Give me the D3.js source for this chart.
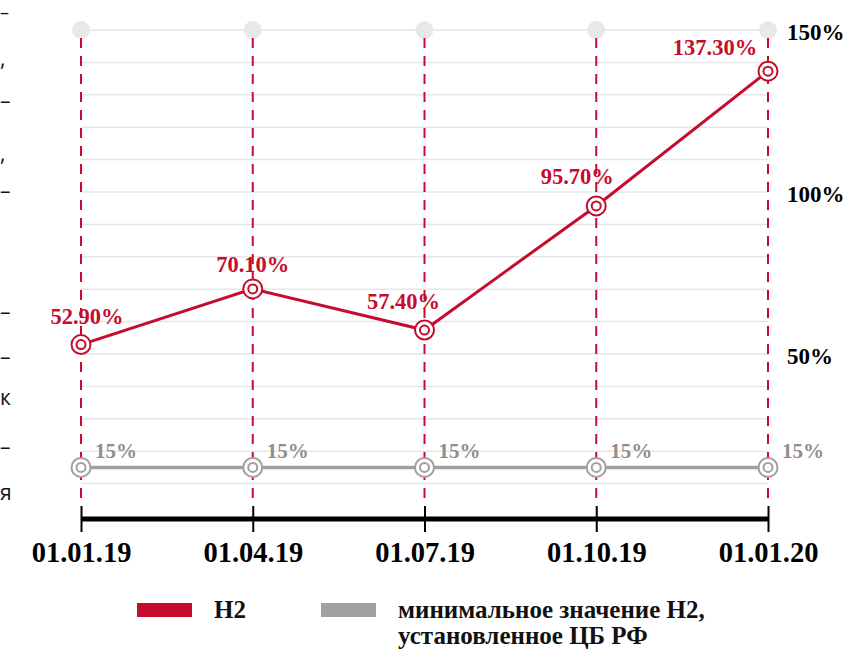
<!DOCTYPE html>
<html><head><meta charset="utf-8">
<script src="https://cdn.jsdelivr.net/npm/d3@7/dist/d3.min.js"></script>
<style>
html,body{margin:0;padding:0;background:#fff;}
svg{display:block;}
text{font-family:"Liberation Serif","DejaVu Serif",serif;font-weight:bold;}
</style></head>
<body>
<svg id="chart" width="843" height="649"></svg>
<script>
// ---- data ----
const categories = ["01.01.19", "01.04.19", "01.07.19", "01.10.19", "01.01.20"];
const n2Values = [52.9, 70.1, 57.4, 95.7, 137.3];
const minValues = [15, 15, 15, 15, 15];
const n2Labels = ["52.90%", "70.10%", "57.40%", "95.70%", "137.30%"];
const minLabels = ["15%", "15%", "15%", "15%", "15%"];
const rightTicks = [50, 100, 150];
const legendItems = ["Н2", "минимальное значение Н2,|установленное ЦБ РФ"];
const leftFragments = ["–", ",", "–", ",", "–", "–", "–", "к", "–", "я"];

// ---- style / layout config ----
const RED = "#c60c2e", GRAY = "#a0a0a0", GRID = "#e6e6e6";
const n2LabelDx = [6, 0, -21, -19, -53];
const n2LabelDy = [-21, -17, -21, -22, -16];
const fragY = [19, 66, 108, 161, 198, 319, 364, 405, 454, 500];

const svg = d3.select("#chart");
svg.append("rect").attr("width", 843).attr("height", 649).attr("fill", "#fff");

const x = d3.scalePoint().domain(categories).range([81, 768]).padding(0);
const y = d3.scaleLinear().domain([0, 150]).range([516, 30]);

// left edge text fragments
svg.append("g").selectAll("text").data(leftFragments).join("text")
  .attr("x", 0).attr("y", (d, i) => fragY[i])
  .attr("text-anchor", "start")
  .style("font-family", "'Open Sans', 'DejaVu Sans', sans-serif")
  .style("font-weight", "normal")
  .attr("font-size", (d, i) => i === 0 ? 18 : 21).attr("fill", "#111").text(d => d);

// gridlines
const gridVals = d3.range(10, 151, 10);
svg.append("g").selectAll("line").data(gridVals).join("line")
  .attr("x1", x(categories[0])).attr("x2", x(categories[categories.length - 1]))
  .attr("y1", d => y(d)).attr("y2", d => y(d))
  .attr("stroke", GRID).attr("stroke-width", 1.5);

// top light circles
svg.append("g").selectAll("circle").data(categories).join("circle")
  .attr("cx", d => x(d)).attr("cy", y(150)).attr("r", 9).attr("fill", "#e8e8e8");

// vertical dashed lines
svg.append("g").selectAll("line").data(categories).join("line")
  .attr("x1", d => x(d)).attr("x2", d => x(d))
  .attr("y1", y(150) + 8).attr("y2", 500)
  .attr("stroke", RED).attr("stroke-width", 2).attr("stroke-dasharray", "10,8");

// x axis
const axisY = 519;
const xAxis = d3.axisBottom(x).tickSize(0).tickPadding(0);
const ax = svg.append("g").attr("transform", `translate(0,${axisY})`).call(xAxis);
ax.select(".domain").remove();
ax.insert("line", ":first-child")
  .attr("x1", x(categories[0])).attr("x2", x(categories[categories.length - 1]))
  .attr("y1", 0).attr("y2", 0).attr("stroke", "#000").attr("stroke-width", 5);
ax.selectAll(".tick line").attr("y1", -13).attr("y2", 13).attr("stroke", "#000").attr("stroke-width", 2);
ax.selectAll(".tick text").attr("y", 43).attr("dy", 0)
  .attr("font-size", 28.5).attr("fill", "#000")
  .style("font-family", "'Liberation Serif', serif").style("font-weight", "bold");

// right axis labels
const yAxis = d3.axisRight(y).tickValues(rightTicks).tickFormat(d => d + "%").tickSize(0).tickPadding(0);
const ay = svg.append("g").attr("transform", "translate(787,0)").call(yAxis);
ay.select(".domain").remove();
ay.selectAll(".tick text").attr("x", 0).attr("dy", 9)
  .attr("font-size", 23).attr("fill", "#000")
  .style("font-family", "'Liberation Serif', serif").style("font-weight", "bold");

// lines
const line = d3.line().x((d, i) => x(categories[i])).y(d => y(d));
svg.append("path").datum(minValues).attr("d", line)
  .attr("fill", "none").attr("stroke", GRAY).attr("stroke-width", 3.5);
svg.append("path").datum(n2Values).attr("d", line)
  .attr("fill", "none").attr("stroke", RED).attr("stroke-width", 3);

// markers
function markers(vals, color) {
  const g = svg.append("g").selectAll("g").data(vals).join("g")
    .attr("transform", (d, i) => `translate(${x(categories[i])},${y(d)})`);
  g.append("circle").attr("r", 9.5).attr("fill", "#fff").attr("stroke", color).attr("stroke-width", 2);
  g.append("circle").attr("r", 4.5).attr("fill", "#fff").attr("stroke", color).attr("stroke-width", 2);
}
markers(minValues, GRAY);
markers(n2Values, RED);

// labels
svg.append("g").selectAll("text").data(n2Values).join("text")
  .attr("x", (d, i) => x(categories[i]) + n2LabelDx[i])
  .attr("y", (d, i) => y(d) + n2LabelDy[i])
  .attr("text-anchor", "middle").attr("font-size", 22.5).attr("fill", RED)
  .text((d, i) => n2Labels[i]);

svg.append("g").selectAll("text").data(minValues).join("text")
  .attr("x", (d, i) => x(categories[i]) + 14)
  .attr("y", d => y(d) - 9)
  .attr("text-anchor", "start").attr("font-size", 21).attr("fill", "#8e8e8e")
  .text((d, i) => minLabels[i]);

// legend
const legX = [137, 321], legColors = [RED, GRAY];
const lg = svg.append("g").selectAll("g").data(legendItems).join("g");
lg.append("rect").attr("x", (d, i) => legX[i]).attr("y", 603).attr("width", 55).attr("height", 14)
  .attr("fill", (d, i) => legColors[i]);
lg.each(function (d, i) {
  const t = d3.select(this).append("text").attr("font-size", 25).attr("fill", "#111");
  d.split("|").forEach((s, j) => {
    t.append("tspan").attr("x", legX[i] + 77).attr("y", 618 + j * 26).text(s);
  });
});
</script>
</body></html>
